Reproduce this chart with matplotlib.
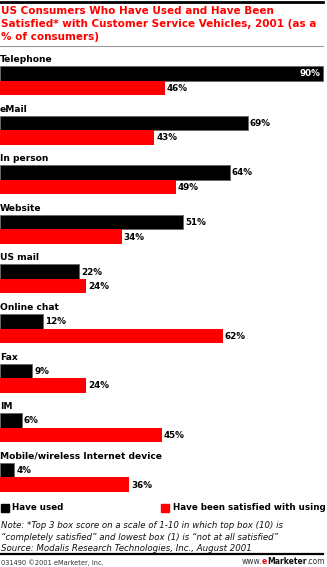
import matplotlib.pyplot as plt
from matplotlib.lines import Line2D
from matplotlib.patches import Rectangle

categories = ["Telephone", "eMail", "In person", "Website", "US mail",
              "Online chat", "Fax", "IM", "Mobile/wireless Internet device"]
have_used = [90, 69, 64, 51, 22, 12, 9, 6, 4]
satisfied = [46, 43, 49, 34, 24, 62, 24, 45, 36]
value_labels_used = [f"{v}%" for v in have_used]
value_labels_sat = [f"{v}%" for v in satisfied]

title = ("US Consumers Who Have Used and Have Been\n"
         "Satisfied* with Customer Service Vehicles, 2001 (as a\n"
         "% of consumers)")
note = ("Note: *Top 3 box score on a scale of 1-10 in which top box (10) is\n"
        "\u201ccompletely satisfied\u201d and lowest box (1) is \u201cnot at all satisfied\u201d\n"
        "Source: Modalis Research Technologies, Inc., August 2001")

RED = "#ff0000"
W, H = 327, 567
PX_PER_PCT = 3.59

fig = plt.figure(figsize=(W / 100, H / 100), dpi=100)
fig.patch.set_facecolor("white")

# bars axis: x in percent, y in pixel rows
ax = fig.add_axes([0, 0, 1, 1])
ax.set_xlim(0, W / PX_PER_PCT)
ax.set_ylim(H, 0)
ax.axis("off")

# overlay axis in pixel coordinates for decoration
ov = fig.add_axes([0, 0, 1, 1], facecolor="none")
ov.set_xlim(0, W)
ov.set_ylim(H, 0)
ov.axis("off")

first_top = 66
step = 49.6
bh = 14.5
for i, cat in enumerate(categories):
    top = first_top + i * step
    ax.barh(top + bh / 2, have_used[i], height=bh, color="black",
            edgecolor="#666666", linewidth=0.6)
    ax.barh(top + bh * 1.5, satisfied[i], height=bh, color=RED, linewidth=0)
    ax.text(0, top - 2, cat, fontsize=6.6, fontweight="bold", va="bottom", ha="left")
    if have_used[i] > 80:
        ax.text(have_used[i] - 0.8, top + bh / 2 + 0.5, value_labels_used[i],
                color="white", fontsize=6.3, fontweight="bold", va="center", ha="right")
    else:
        ax.text(have_used[i] + 0.5, top + bh / 2 + 0.5, value_labels_used[i],
                color="black", fontsize=6.3, fontweight="bold", va="center", ha="left")
    ax.text(satisfied[i] + 0.5, top + bh * 1.5 + 0.5, value_labels_sat[i],
            color="black", fontsize=6.3, fontweight="bold", va="center", ha="left")

# header
ov.add_line(Line2D([0, 323], [2, 2], color="black", linewidth=2))
ov.text(1, 6.5, title, color=RED, fontsize=7.5, fontweight="bold",
        va="top", ha="left", linespacing=1.32)
ov.add_line(Line2D([0, 323], [46, 46], color="#999999", linewidth=0.8))

# legend
ov.add_patch(Rectangle((1, 504), 7.5, 7.5, color="black"))
ov.text(12, 508, "Have used", fontsize=6.3, fontweight="bold", va="center", ha="left")
ov.add_patch(Rectangle((161, 504), 7.5, 7.5, color=RED))
ov.text(173, 508, "Have been satisfied with using", fontsize=6.3, fontweight="bold",
        va="center", ha="left")

# note and source
ov.text(1, 521.5, note, fontsize=6.2, fontstyle="italic", va="top", ha="left",
        linespacing=1.3, color="#111111")

# footer
ov.add_line(Line2D([0, 323], [554, 554], color="black", linewidth=1.6))
ov.text(1, 564.5, "031490 \u00a92001 eMarketer, Inc.", fontsize=4.8, va="baseline",
        ha="left", color="#333333")

# www.eMarketer.com with red "e", laid out right to left
renderer = fig.canvas.get_renderer()
pieces = [("www.", "#333333", "normal"), ("e", RED, "bold"),
          ("Marketer", "#111111", "bold"), (".com", "#333333", "normal")]
x_right = 325
for txt, col, wt in reversed(pieces):
    t = fig.text(x_right / W, 1 - 564.5 / H, txt, fontsize=5.5, color=col,
                 fontweight=wt, va="baseline", ha="right")
    bb = t.get_window_extent(renderer)
    x_right -= bb.width

fig.savefig("out.png", dpi=100)
